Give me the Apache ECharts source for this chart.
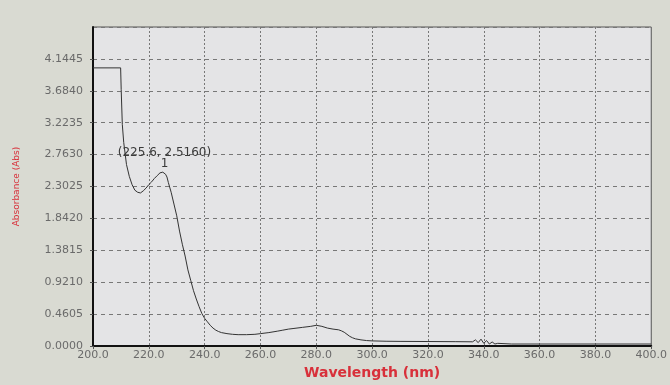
<!DOCTYPE html>
<html style="height: 100%">
<head>
<meta charset="utf-8">
<script src="https://cdn.jsdelivr.net/npm/echarts@6/dist/echarts.min.js"></script>
</head>
<body style="height: 100%; margin: 0; background: #d9dad2">
<div id="container" style="width: 670px; height: 385px"></div>
<script type="text/javascript">
// spectrum
var wavelength = [200, 209.9, 210.1, 210.5, 211, 212, 213, 214, 215, 216, 217, 218, 219, 220, 221, 222, 223, 224, 225, 225.6,
    226, 226.5, 227, 228, 229, 230, 231, 232, 233, 234, 235, 236, 237, 238, 239, 240, 241, 242, 243, 244, 245, 246, 248, 250,
    252, 255, 258, 260, 263, 266, 268, 270, 272, 275, 278, 280, 282, 284, 286, 288, 289, 290, 291, 292, 293, 294, 296, 298,
    300, 305, 310, 320, 330, 336, 337, 338, 339, 340, 341, 342, 343, 344, 345, 350, 360, 380, 400];
var absorbance = [4.015, 4.015, 3.70, 3.20, 2.94, 2.62, 2.45, 2.33, 2.25, 2.22, 2.21, 2.24, 2.28, 2.33, 2.37, 2.42, 2.46, 2.50, 2.51, 2.516,
    2.48, 2.44, 2.36, 2.22, 2.05, 1.88, 1.66, 1.47, 1.30, 1.10, 0.95, 0.80, 0.68, 0.57, 0.47, 0.40, 0.35, 0.30, 0.26, 0.23, 0.21, 0.195, 0.18, 0.17,
    0.165, 0.165, 0.17, 0.18, 0.195, 0.215, 0.23, 0.245, 0.255, 0.27, 0.285, 0.30, 0.285, 0.26, 0.245, 0.235, 0.22, 0.20, 0.17, 0.14, 0.12, 0.105, 0.09, 0.08,
    0.075, 0.07, 0.068, 0.066, 0.064, 0.062, 0.09, 0.05, 0.10, 0.04, 0.08, 0.03, 0.06, 0.03, 0.04, 0.03, 0.03, 0.03, 0.03];
var peak = [225.6, 2.5160];
var yStep = 0.4605;

var points = wavelength.map(function (w, i) { return [w, absorbance[i]]; });

var myChart = echarts.init(document.getElementById('container'));
var option = {
    backgroundColor: '#d9dad2',
    animation: false,
    grid: {
        left: 93, right: 8, top: 27, bottom: 38,
        show: true, backgroundColor: '#e4e4e6', borderColor: '#555', borderWidth: 1
    },
    xAxis: {
        type: 'value', min: 200, max: 400, interval: 20,
        name: 'Wavelength (nm)', nameLocation: 'middle', nameGap: 18,
        nameTextStyle: { color: '#d8303a', fontWeight: 'bold', fontSize: 14, fontFamily: 'DejaVu Sans' },
        axisLine: { lineStyle: { color: '#111', width: 2 } },
        axisTick: { show: true, length: 3, inside: false, lineStyle: { color: '#555' } },
        axisLabel: {
            color: '#6a6a6a', fontSize: 11, fontFamily: 'DejaVu Sans', margin: 4,
            formatter: function (v) { return v.toFixed(1); }
        },
        splitLine: { show: true, lineStyle: { color: '#777', type: [2, 2], width: 1 } }
    },
    yAxis: {
        type: 'value', min: 0, max: yStep * 10, interval: yStep,
        name: 'Absorbance (Abs)', nameLocation: 'middle', nameGap: 72, nameRotate: 90,
        nameTextStyle: { color: '#d8303a', fontSize: 9, fontFamily: 'DejaVu Sans' },
        axisLine: { show: true, lineStyle: { color: '#111', width: 2 } },
        axisTick: { show: true, length: 3, lineStyle: { color: '#555' } },
        axisLabel: {
            color: '#6a6a6a', fontSize: 11, fontFamily: 'DejaVu Sans', margin: 10, showMaxLabel: false,
            formatter: function (v) { return v.toFixed(4); }
        },
        splitLine: { show: true, lineStyle: { color: '#777', type: [4, 4], width: 1 } }
    },
    series: [{
        type: 'line',
        data: points,
        showSymbol: false,
        lineStyle: { color: '#333', width: 1 },
        markPoint: {
            symbol: 'circle', symbolSize: 0,
            data: [{ coord: peak }],
            label: {
                show: true, position: 'top', distance: 2,
                color: '#3a3a3a', fontSize: 12, fontFamily: 'DejaVu Sans', lineHeight: 11,
                formatter: function () { return '(' + peak[0].toFixed(1) + ', ' + peak[1].toFixed(4) + ')\n1'; }
            }
        }
    }]
};
myChart.setOption(option);
</script>
</body>
</html>
